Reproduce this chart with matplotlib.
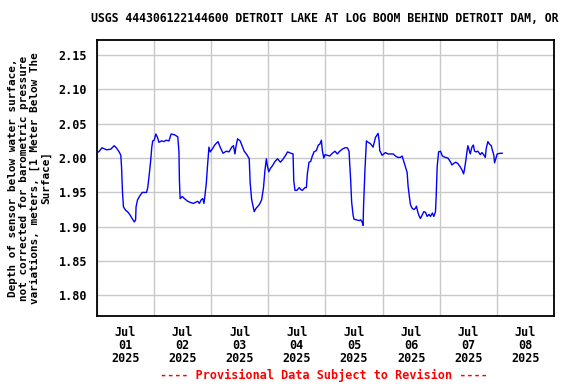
import numpy as np
import pandas as pd
import matplotlib
matplotlib.use("Agg")
import matplotlib.pyplot as plt
import matplotlib.dates as mdates

# hours after 2025-07-01 00:00
hours = [0.8, 2.2, 4.1, 5.9, 7.3, 8.2, 9.4, 10.1, 10.4, 10.8, 11.2, 12.1, 12.9, 14.0,
         15.0, 15.8, 16.3, 16.5, 17.1, 17.9, 19.1, 20.9, 21.4, 22.0, 22.6, 23.1, 23.5,
         24.1, 24.8, 25.5, 26.1, 27.2, 28.2, 29.1, 30.3, 31.2, 32.6, 34.0, 34.5, 34.7,
         35.0, 35.9, 36.8, 38.2, 39.6, 40.6, 41.7, 42.4, 43.1, 43.8, 44.5, 45.0, 45.4,
         46.0, 46.5, 47.1, 47.6, 48.5, 49.5, 50.9, 51.8, 53.0, 54.4, 55.5, 56.7, 57.4,
         58.0, 58.4, 59.1, 60.2, 61.2, 61.9, 63.0, 64.0, 64.4, 65.0, 65.8, 66.1, 66.9,
         68.2, 69.2, 70.0, 70.6, 71.2, 71.6, 72.2, 72.9, 73.8, 74.8, 75.9, 77.1, 78.1,
         79.1, 80.1, 81.5, 82.4, 82.7, 83.2, 84.0, 85.0, 85.7, 86.3, 87.4, 88.0, 88.4,
         89.1, 89.8, 90.5, 91.2, 92.2, 93.0, 93.6, 94.3, 94.7, 95.3, 95.8, 96.8, 97.8,
         98.9, 100.0, 101.0, 102.0, 103.1, 104.2, 105.2, 105.9, 106.2, 106.6, 107.0,
         107.6, 108.0, 109.0, 110.1, 110.9, 111.5, 111.8, 112.0, 112.6, 113.2, 113.9,
         114.9, 116.0, 117.0, 118.1, 118.5, 118.8, 119.1, 119.8, 120.5, 121.2, 122.2,
         123.3, 124.4, 125.4, 126.4, 127.5, 128.2, 128.9, 129.6, 130.3, 130.7, 131.3,
         131.7, 132.4, 133.1, 133.8, 134.2, 134.8, 135.3, 135.9, 136.6, 137.3, 138.0,
         138.7, 139.5, 140.1, 140.9, 141.5, 142.2, 142.5, 142.9, 143.5, 144.3, 145.1,
         146.3, 147.4, 148.4, 149.1, 149.8, 150.7, 151.6, 152.6, 153.3, 154.0, 154.4,
         155.0, 155.4, 155.8, 156.4, 156.8, 157.5, 158.1, 158.6, 159.2, 160.0, 161.0,
         161.7, 162.4, 163.1, 163.5, 164.2, 164.7, 165.6, 166.2, 166.7, 167.0, 167.6,
         168.1, 169.4, 170.2]
depth = [2.009, 2.015, 2.012, 2.013, 2.018, 2.015, 2.009, 2.004, 1.987, 1.950, 1.929,
         1.924, 1.922, 1.917, 1.911, 1.907, 1.910, 1.929, 1.939, 1.944, 1.950, 1.950,
         1.957, 1.975, 1.995, 2.016, 2.025, 2.026, 2.035, 2.030, 2.023, 2.025, 2.024,
         2.026, 2.025, 2.035, 2.034, 2.031, 2.009, 1.967, 1.941, 1.944, 1.941, 1.937,
         1.935, 1.934, 1.936, 1.937, 1.934, 1.939, 1.941, 1.934, 1.945, 1.964, 1.989,
         2.016, 2.009, 2.013, 2.019, 2.024, 2.016, 2.007, 2.010, 2.009, 2.016, 2.018,
         2.006, 2.016, 2.028, 2.025, 2.016, 2.010, 2.005, 1.999, 1.964, 1.940, 1.927,
         1.922, 1.927, 1.932, 1.939, 1.957, 1.982, 1.999, 1.989, 1.980, 1.985, 1.989,
         1.995, 1.999, 1.994, 1.998, 2.003, 2.009, 2.007, 2.006, 1.967, 1.953, 1.953,
         1.957, 1.954, 1.953, 1.957, 1.957, 1.977, 1.994, 1.995, 2.003, 2.009, 2.011,
         2.019, 2.020, 2.026, 2.011, 2.000, 2.005, 2.004, 2.003, 2.007, 2.010, 2.006,
         2.010, 2.013, 2.015, 2.015, 2.010, 1.992, 1.967, 1.936, 1.917, 1.911, 1.910,
         1.909, 1.910, 1.906, 1.902, 1.930, 1.984, 2.025, 2.023, 2.021, 2.016, 2.030,
         2.036, 2.026, 2.011, 2.009, 2.004, 2.006, 2.008, 2.006, 2.006, 2.006, 2.003,
         2.001, 2.001, 2.003, 1.995, 1.987, 1.979, 1.959, 1.942, 1.932, 1.927, 1.925,
         1.927, 1.930, 1.921, 1.916, 1.912, 1.917, 1.922, 1.921, 1.915, 1.918, 1.915,
         1.920, 1.915, 1.922, 1.945, 1.987, 2.009, 2.010, 2.003, 2.001, 2.000, 1.995,
         1.990, 1.992, 1.994, 1.992, 1.987, 1.983, 1.977, 1.984, 1.998, 2.009, 2.018,
         2.011, 2.006, 2.016, 2.019, 2.010, 2.009, 2.010, 2.005, 2.008, 2.005, 2.001,
         2.014, 2.024, 2.021, 2.018, 2.010, 2.004, 1.993, 2.000, 2.006, 2.007, 2.007]

title = "USGS 444306122144600 DETROIT LAKE AT LOG BOOM BEHIND DETROIT DAM, OR"
ylabel = ("Depth of sensor below water surface,\nnot corrected for barometric pressure\n"
          "variations, meters, [1 Meter Below The\nSurface]")
yticks = [1.80, 1.85, 1.90, 1.95, 2.00, 2.05, 2.10, 2.15]

start = pd.Timestamp("2025-07-01")
times = start + pd.to_timedelta(hours, unit="h")

font = "DejaVu Sans Mono"
fs = 8.5

fig = plt.figure(figsize=(5.76, 3.84), dpi=100)
ax = fig.add_axes([0.168, 0.177, 0.794, 0.719])
ax.plot(times, depth, color="#0000ff", lw=1.0)

ax.set_xlim(start, start + pd.Timedelta(days=8))
ax.set_ylim(1.770, 2.172)
ax.set_yticks(yticks)
ax.set_yticklabels([f"{v:.2f}" for v in yticks], fontfamily=font, fontweight="bold", fontsize=fs)

ax.xaxis.set_major_locator(mdates.DayLocator())
ax.xaxis.set_major_formatter(plt.NullFormatter())
ax.xaxis.set_minor_locator(mdates.HourLocator(byhour=[12]))
ax.xaxis.set_minor_formatter(mdates.DateFormatter("%b\n%d\n%Y"))
for lab in ax.xaxis.get_minorticklabels():
    lab.set_fontfamily(font)
    lab.set_fontweight("bold")
    lab.set_fontsize(fs)
    lab.set_linespacing(1.0)

ax.tick_params(axis="both", which="both", length=0)
ax.tick_params(axis="y", pad=7)
ax.tick_params(axis="x", which="minor", pad=7)
ax.grid(True, which="major", color="#c8c8c8", lw=1.0)
ax.set_axisbelow(True)
for s in ax.spines.values():
    s.set_linewidth(1.3)

ax.set_ylabel(ylabel, fontfamily=font, fontweight="bold", fontsize=7.9,
              linespacing=1.12, labelpad=5)
fig.text(0.563, 0.953, title, ha="center", va="center",
         fontfamily=font, fontweight="bold", fontsize=8.3)
fig.text(0.563, 0.023, "---- Provisional Data Subject to Revision ----", ha="center",
         va="center", color="red", fontfamily=font, fontweight="bold", fontsize=fs)

fig.savefig("out.png", dpi=100)
